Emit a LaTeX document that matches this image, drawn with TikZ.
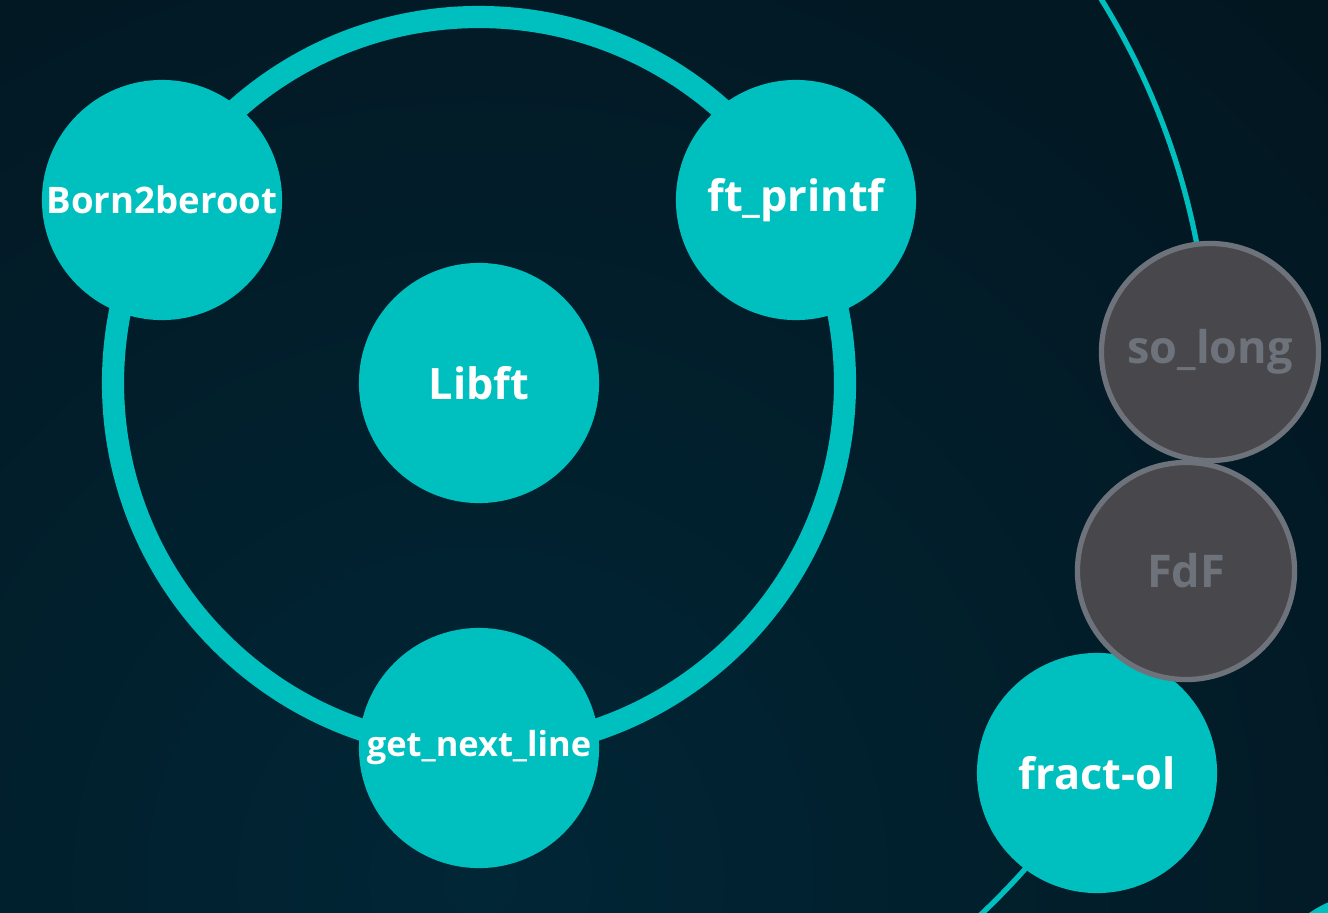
\documentclass[tikz,border=0pt]{standalone}
\usepackage{fontspec}
\setmainfont{Open Sans}
\definecolor{teal42}{HTML}{00BFBF}
\definecolor{lockfill}{HTML}{48484C}
\definecolor{lockline}{HTML}{6E737B}
\definecolor{bginner}{HTML}{012636}
\definecolor{bgouter}{HTML}{030B11}
\tikzset{
  project/.style={circle, fill=teal42, minimum size=2.4cm, inner sep=0pt,
    text=white, font=\bfseries\fontsize{12.3}{14}\selectfont},
  smalltext/.style={font=\bfseries\fontsize{10.4}{12}\selectfont},
  tinytext/.style={font=\bfseries\fontsize{9.8}{12}\selectfont},
  locked/.style={circle, fill=lockfill, draw=lockline, line width=1.5pt,
    minimum size=2.17cm, inner sep=0pt, text=lockline,
    font=\bfseries\fontsize{12.8}{14}\selectfont},
}

\begin{document}
\begin{tikzpicture}[x=0.01cm, y=-0.01cm]
    \useasboundingbox (0, 0) rectangle (1328, 912);
    \clip (0, 0) rectangle (1328, 912);
    % background
    \shade[inner color=bginner, outer color=bgouter] (480, 880) circle (2000);
    \coordinate (core) at (479, 383);
    % orbits
    \draw[teal42, line width=6.3pt] (core) circle (366);
    \draw[teal42, line width=1.5pt] (core) circle (731);
    % first circle
    \node[project] (libft) at (core) {Libft};
    \node[project, smalltext] (b2br) at (162, 200) {Born2beroot};
    \node[project] (printf) at (796, 200) {ft\_printf};
    \node[project, tinytext] (gnl) at (479, 748) {get\_next\_line};
    % second circle
    \node[project] (fractol) at (1097, 773) {fract-ol};
    \node[locked] (solong) at (1210, 352) {so\_long};
    \node[locked] (fdf) at (1186, 571) {FdF};
    % third circle
    \node[project] (next) at (1377, 1012) {};
\end{tikzpicture}
\end{document}
